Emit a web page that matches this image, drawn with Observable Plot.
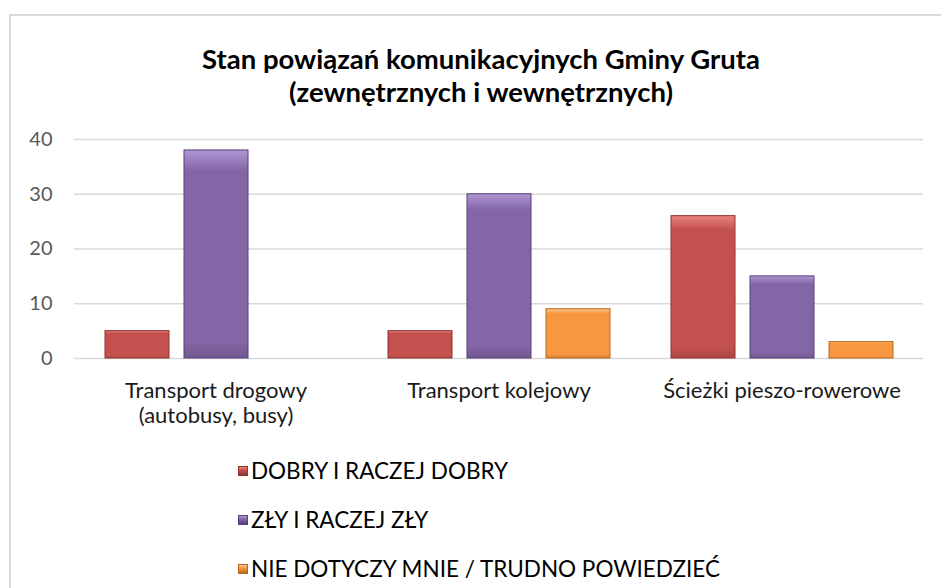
<!DOCTYPE html>
<html><head><meta charset="utf-8">
<script src="https://cdn.jsdelivr.net/npm/d3@7"></script>
<script src="https://cdn.jsdelivr.net/npm/@observablehq/plot@0.6"></script>
<style>
html,body{margin:0;padding:0;overflow:hidden;background:#fff;width:941px;height:588px}
body{font-family:Lato,"Open Sans",sans-serif;position:relative}
#frame{position:absolute;left:9px;top:14px;width:980px;height:620px;border:2px solid #d9d9d9;box-sizing:border-box}
#title{position:absolute;left:9px;top:42px;width:944px;text-align:center;font-weight:bold;font-size:27.5px;line-height:33px;color:#000}
#chart{position:absolute;left:0;top:120px}
#legend{position:absolute;left:238px;top:446px}
.item{height:49px;display:flex;align-items:center;font-size:22.5px;color:#000}
.sw{width:10px;height:10px;margin-right:3px;box-sizing:border-box;border:1px solid}
</style>
</head><body>
<div id="frame"></div>
<div id="title">Stan powiązań komunikacyjnych Gminy Gruta<br>(zewnętrznych i wewnętrznych)</div>
<div id="chart"></div>
<div id="legend"></div>
<script>
const groups = ["Transport drogowy\n(autobusy, busy)", "Transport kolejowy", "Ścieżki pieszo-rowerowe"];
const series = ["DOBRY I RACZEJ DOBRY", "ZŁY I RACZEJ ZŁY", "NIE DOTYCZY MNIE / TRUDNO POWIEDZIEĆ"];
const dobry = [5, 5, 26];
const zly = [38, 30, 15];
const nieDotyczy = [0, 9, 3];
const yTicks = [0, 10, 20, 30, 40];
const colors = ["#c4514e", "#8366a6", "#f8973f"];
const lights = ["#e8847f", "#b096d4", "#fcc68a"];
const darks = ["#8e3230", "#55407a", "#b8691f"];

const values = [dobry, zly, nieDotyczy];
const rows = [];
series.forEach((s, si) => groups.forEach((g, gi) => {
  const v = values[si][gi];
  if (v > 0) rows.push({group: g, series: s, value: v});
}));

const chart = Plot.plot({
  width: 941, height: 310,
  marginLeft: 74, marginRight: 18, marginTop: 19, marginBottom: 72,
  style: {fontFamily: "Lato, 'Open Sans', sans-serif", fontSize: "20px", background: "transparent", overflow: "visible"},
  fx: {domain: groups, paddingInner: 0, paddingOuter: 0, label: null},
  x: {domain: series, paddingInner: 0.19, paddingOuter: 0.386, axis: null},
  y: {domain: [0, 40], label: null},
  marks: [
    Plot.gridY(yTicks, {stroke: "#d9d9d9", strokeOpacity: 1, strokeWidth: 1.5}),
    Plot.axisY(yTicks, {tickSize: 0, tickPadding: 22, fontSize: 20, fill: "#595959", label: null}),
    Plot.axisFx({anchor: "bottom", tickSize: 0, tickPadding: 22, lineHeight: 1.14, fontSize: 22, fill: "#1a1a1a", label: null}),
    ...series.map((s, i) => Plot.barY(rows.filter(d => d.series === s), {
      fx: "group", x: "series", y: "value",
      fill: `url(#grad${i})`, stroke: darks[i], strokeWidth: 1
    }))
  ]
});

const defs = d3.select(chart).insert("defs", ":first-child");
colors.forEach((c, i) => {
  const g = defs.append("linearGradient").attr("id", `grad${i}`).attr("x1", 0).attr("y1", 0).attr("x2", 0).attr("y2", 1);
  g.append("stop").attr("offset", "0%").attr("stop-color", lights[i]);
  g.append("stop").attr("offset", "10%").attr("stop-color", c);
  g.append("stop").attr("offset", "92%").attr("stop-color", c);
  g.append("stop").attr("offset", "100%").attr("stop-color", d3.color(c).darker(0.4).formatHex());
});
document.getElementById("chart").appendChild(chart);

const legend = d3.select("#legend");
series.forEach((s, i) => {
  const it = legend.append("div").attr("class", "item");
  it.append("div").attr("class", "sw")
    .style("background", `linear-gradient(${lights[i]}, ${colors[i]} 40%, ${darks[i]})`)
    .style("border-color", darks[i]);
  it.append("span").text(s);
});
</script>
</body></html>
